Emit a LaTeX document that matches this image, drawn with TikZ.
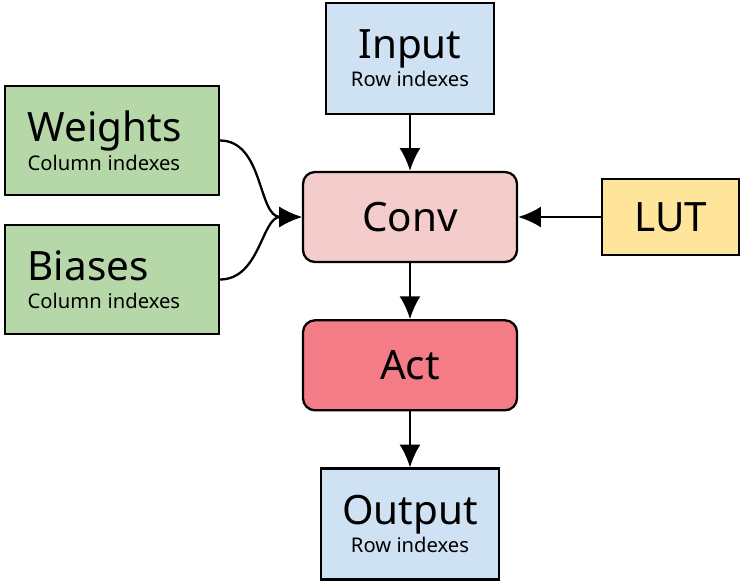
\documentclass[tikz,border=0pt]{standalone}
\usepackage{fontspec}
\setmainfont{Noto Sans}
\usepackage{tikz}
\usetikzlibrary{arrows.meta,positioning}
\definecolor{ioblue}{RGB}{207,226,243}
\definecolor{paramgreen}{RGB}{182,215,168}
\definecolor{convpink}{RGB}{244,204,204}
\definecolor{actred}{RGB}{244,124,134}
\definecolor{lutyellow}{RGB}{255,229,153}
\newcommand{\titletxt}[1]{{\fontsize{23}{26}\selectfont #1}}
\newcommand{\headline}[1]{{\fontsize{23}{26}\selectfont #1\vphantom{gp}}}
\newcommand{\subtxt}[1]{{\fontsize{11.5}{14}\selectfont #1}}

\begin{document}
\begin{tikzpicture}[
    node distance=1.12cm,
    block/.style={rectangle, draw=black, line width=1.3pt, inner sep=0pt, align=center},
    opblock/.style={block, rounded corners=0.24cm, minimum width=4.28cm, minimum height=1.8cm},
    paramblock/.style={block, fill=paramgreen, align=left, text width=3.36cm, inner xsep=0.46cm, minimum height=2.18cm},
    link/.style={-{Latex[length=13pt,width=12pt]}, line width=1.3pt}
]
    \useasboundingbox (0,0) rectangle (14.86,-11.62);

    \node[opblock, fill=convpink] (conv) at (8.2,-4.34) {\titletxt{Conv}};
    \node[block, fill=ioblue, minimum width=3.36cm, minimum height=2.22cm, above=of conv] (input) {\headline{Input}\\[1pt]\subtxt{Row indexes}};
    \node[opblock, fill=actred, below=of conv] (act) {\titletxt{Act}};
    \node[block, fill=ioblue, minimum width=3.56cm, minimum height=2.22cm, below=of act] (output) {\headline{Output}\\[1pt]\subtxt{Row indexes}};
    \node[block, fill=lutyellow, minimum width=2.74cm, minimum height=1.52cm, right=1.66cm of conv] (lut) {\titletxt{LUT}};
    \node[paramblock, left=1.64cm of conv, yshift=1.53cm] (weights) {\headline{Weights}\\[1pt]\subtxt{Column indexes}};
    \node[paramblock, left=1.64cm of conv, yshift=-1.25cm] (biases) {\headline{Biases}\\[1pt]\subtxt{Column indexes}};

    \draw[link] (input) -- (conv);
    \draw[link] (conv) -- (act);
    \draw[link] (act) -- (output);
    \draw[link] (lut) -- (conv);
    \draw[link] (weights.east) to[out=0, in=180] (conv.west);
    \draw[link] (biases.east) to[out=0, in=180] (conv.west);
\end{tikzpicture}
\end{document}
